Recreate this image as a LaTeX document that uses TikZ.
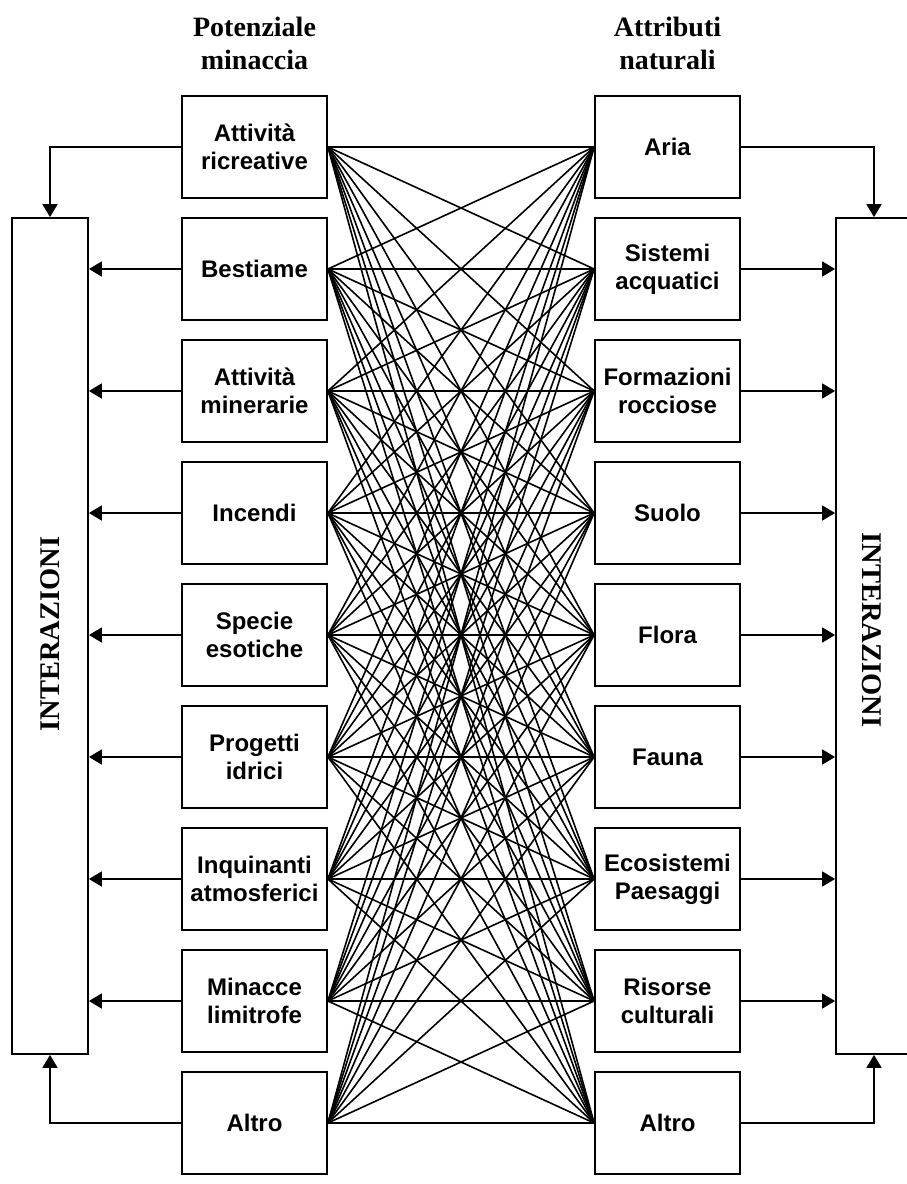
\documentclass[tikz,border=0pt]{standalone}
\usepackage{fontspec}
\setmainfont{Liberation Sans}
\newfontfamily\hdrfont{Liberation Serif}
\usetikzlibrary{arrows.meta}
\begin{document}
\begin{tikzpicture}[x=1pt,y=-1pt,
  box/.style={draw=black,line width=1.8pt,minimum width=145pt,minimum height=102pt,inner sep=0pt,
    align=center,font=\fontsize{24}{28}\selectfont\bfseries},
  sidebox/.style={draw=black,line width=1.8pt,minimum width=76pt,minimum height=836pt,inner sep=0pt},
  hdr/.style={align=center,font=\fontsize{28}{33}\selectfont\hdrfont\bfseries},
  side/.style={font=\fontsize{28.5}{33}\selectfont\hdrfont\bfseries},
  arr/.style={line width=1.8pt,-{Triangle[length=13pt,width=15pt]}},
  link/.style={line width=1.6pt}]
\useasboundingbox (0,0) rectangle (906,1184);
% headers
\node[hdr] (h1) at (254.5,43) {Potenziale\\minaccia};
\node[hdr] (h2) at (667.5,43) {Attributi\\naturali};
% left boxes
\node[box] (L1) at (254.5,147) {Attività\\ricreative};
\node[box] (L2) at (254.5,269) {Bestiame};
\node[box] (L3) at (254.5,391) {Attività\\minerarie};
\node[box] (L4) at (254.5,513) {Incendi};
\node[box] (L5) at (254.5,635) {Specie\\esotiche};
\node[box] (L6) at (254.5,757) {Progetti\\idrici};
\node[box] (L7) at (254.5,879) {Inquinanti\\atmosferici};
\node[box] (L8) at (254.5,1001) {Minacce\\limitrofe};
\node[box] (L9) at (254.5,1123) {Altro};
% right boxes
\node[box] (R1) at (667.5,147) {Aria};
\node[box] (R2) at (667.5,269) {Sistemi\\acquatici};
\node[box] (R3) at (667.5,391) {Formazioni\\rocciose};
\node[box] (R4) at (667.5,513) {Suolo};
\node[box] (R5) at (667.5,635) {Flora};
\node[box] (R6) at (667.5,757) {Fauna};
\node[box] (R7) at (667.5,879) {Ecosistemi\\Paesaggi};
\node[box] (R8) at (667.5,1001) {Risorse\\culturali};
\node[box] (R9) at (667.5,1123) {Altro};
% side boxes
\node[sidebox] (IL) at (50,636) {};
\node[side,rotate=90] (tIL) at (50,634) {INTERAZIONI};
\node[sidebox] (IR) at (874,636) {};
\node[side,rotate=-90] (tIR) at (872,630) {INTERAZIONI};
% complete bipartite links
\foreach \i in {1,...,9}{
  \foreach \j in {1,...,9}{
    \draw[link] (L\i.east) -- (R\j.west);
  }
}
% arrows to interazioni
\draw[arr] (L1.west) -| (IL.north);
\draw[arr] (L9.west) -| (IL.south);
\draw[arr] (R1.east) -| (IR.north);
\draw[arr] (R9.east) -| (IR.south);
\foreach \i in {2,...,8}{
  \draw[arr] (L\i.west) -- (L\i.west -| IL.east);
  \draw[arr] (R\i.east) -- (R\i.east -| IR.west);
}
\end{tikzpicture}
\end{document}
